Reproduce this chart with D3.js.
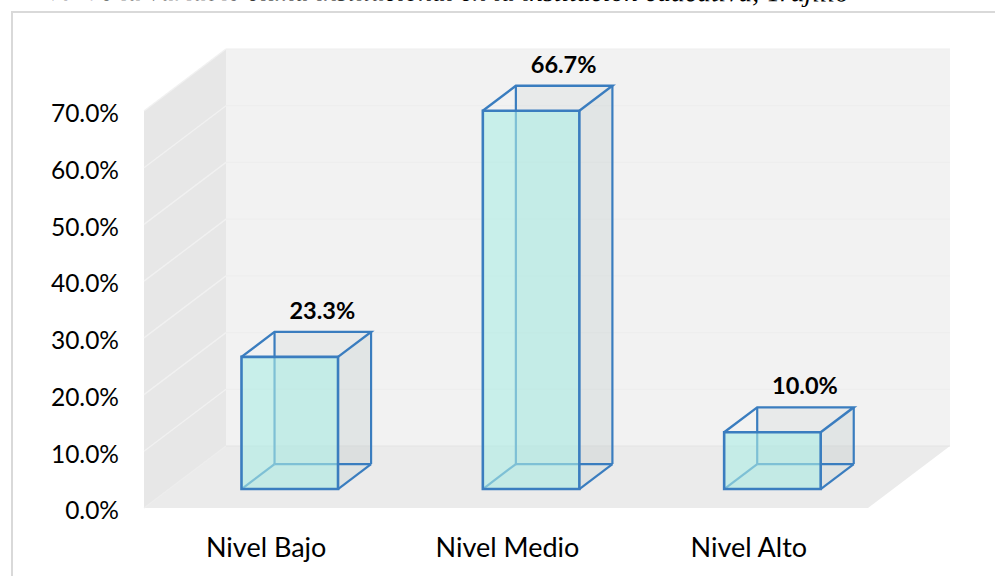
<!DOCTYPE html>
<html>
<head>
<meta charset="utf-8">
<script src="https://cdn.jsdelivr.net/npm/d3@7"></script>
<style>
  html, body { margin: 0; padding: 0; background: #fff; overflow: hidden; }
  text { font-family: Lato, "Open Sans", sans-serif; fill: #000; }
</style>
</head>
<body>
<div class="view"></div>
<script>
const categories = ['Nivel Bajo', 'Nivel Medio', 'Nivel Alto']
const values = [23.3, 66.7, 10.0]
const ticks = [0, 10, 20, 30, 40, 50, 60, 70]

const w = 995
const h = 576

// front edge of the chart box, the walls go back from here
const left = 144
const right = 868
const depthX = 82
const depthY = 62

const svg = d3.select('.view')
    .append('svg')
    .attr('width', w)
    .attr('height', h)
    .style('display', 'block')

const xScale = d3.scaleBand()
    .domain(categories)
    .range([left, right])
    .paddingInner(0.6)
    .paddingOuter(0.3)

const yScale = d3.scaleLinear()
    .domain([0, 70])
    .range([508, 111])

// 3d position: d = 0 at the front of the floor, d = 1 at the back wall
const px = (x, d) => x + d * depthX
const py = (v, d) => yScale(v) - d * depthY
const pt = (x, v, d) => px(x, d) + ',' + py(v, d)
const poly = (sel, pts, fill) => sel.append('polygon')
    .attr('points', pts.join(' '))
    .attr('fill', fill)

// caption cut off by the top of the picture, the page was a bit skewed
svg.append('text')
    .attr('transform', 'translate(22,0) rotate(0.1)')
    .attr('font-style', 'italic')
    .attr('font-size', 27.6)
    .style('font-family', '"Liberation Serif", serif')
    .text('Nivel de la variable clima institucional en la institución educativa, Trujillo')

// outer frame, runs past the right and bottom of the picture
svg.append('rect')
    .attr('x', 12)
    .attr('y', 12)
    .attr('width', w + 20)
    .attr('height', h + 20)
    .attr('fill', '#fff')
    .attr('stroke', '#d9d9d9')
    .attr('stroke-width', 2)

// walls and floor
const walls = svg.append('g').attr('class', 'walls')
poly(walls, [pt(left, 0, 0), pt(left, 70, 0), pt(left, 70, 1), pt(left, 0, 1)], '#e7e7e7')
poly(walls, [pt(left, 0, 1), pt(left, 70, 1), pt(right, 70, 1), pt(right, 0, 1)], '#f2f2f2')
poly(walls, [pt(left, 0, 0), pt(left, 0, 1), pt(right, 0, 1), pt(right, 0, 0)], '#ebebeb')

// grid lines on the side wall and the back wall
const grid = svg.append('g').attr('class', 'grid')
ticks.forEach((t) => {
    grid.append('polyline')
        .attr('points', [pt(left, t, 0), pt(left, t, 1)].join(' '))
        .attr('fill', 'none')
        .attr('stroke', t == 0 ? '#ededed' : '#f1f1f1')
        .attr('stroke-width', 1.4)
    grid.append('polyline')
        .attr('points', [pt(left, t, 1), pt(right, t, 1)].join(' '))
        .attr('fill', 'none')
        .attr('stroke', t == 0 ? '#e4e4e4' : '#eeeeee')
        .attr('stroke-width', 1.2)
})

// y axis, only the labels show
const yAxis = d3.axisLeft(yScale)
    .tickValues(ticks)
    .tickSize(0)
    .tickPadding(25)
    .tickFormat((d) => d.toFixed(1) + '%')

svg.append('g')
    .attr('class', 'y-axis')
    .attr('transform', 'translate(' + left + ',3)')
    .call(yAxis)
    .call((g) => g.select('.domain').remove())
    .selectAll('text')
    .style('font-family', 'Lato, sans-serif')
    .style('font-size', '24.5px')

// x axis labels
const xAxis = d3.axisBottom(xScale).tickSize(0).tickPadding(30)

svg.append('g')
    .attr('class', 'x-axis')
    .attr('transform', 'translate(1.5,508)')
    .call(xAxis)
    .call((g) => g.select('.domain').remove())
    .selectAll('text')
    .style('font-family', 'Lato, sans-serif')
    .style('font-size', '27px')

// boxes, drawn back to front so the glass front lets the rear edges show
const d0 = 0.306
const d1 = 0.709
const edge = '#3a7dbf'

categories.forEach((c, i) => {
    const a = xScale(c)
    const b = a + xScale.bandwidth()
    const v = values[i]
    const g = svg.append('g').attr('class', 'bar')

    // inner faces
    poly(g, [pt(a, 0, d1), pt(a, v, d1), pt(b, v, d1), pt(b, 0, d1)], 'rgba(170,185,185,0.13)')
    poly(g, [pt(b, 0, d0), pt(b, v, d0), pt(b, v, d1), pt(b, 0, d1)], 'rgba(170,190,190,0.1)')
    poly(g, [pt(a, 0, d0), pt(a, 0, d1), pt(b, 0, d1), pt(b, 0, d0)], 'rgba(170,190,190,0.08)')

    // rear edges
    const rear = [
        [pt(a, 0, d1), pt(a, v, d1)],
        [pt(a, 0, d1), pt(b, 0, d1)],
        [pt(a, 0, d0), pt(a, 0, d1)],
        [pt(b, 0, d1), pt(b, v, d1)],
        [pt(b, 0, d0), pt(b, 0, d1)]
    ]
    rear.forEach((p) => {
        g.append('polyline')
            .attr('points', p.join(' '))
            .attr('fill', 'none')
            .attr('stroke', edge)
            .attr('stroke-width', 2.2)
    })

    // front face
    poly(g, [pt(a, 0, d0), pt(a, v, d0), pt(b, v, d0), pt(b, 0, d0)], 'rgba(172,236,228,0.6)')

    // front and top edges
    g.append('polygon')
        .attr('points', [pt(a, 0, d0), pt(a, v, d0), pt(b, v, d0), pt(b, 0, d0)].join(' '))
        .attr('fill', 'none')
        .attr('stroke', edge)
        .attr('stroke-width', 2.6)
    g.append('polyline')
        .attr('points', [pt(a, v, d0), pt(a, v, d1), pt(b, v, d1), pt(b, v, d0)].join(' '))
        .attr('fill', 'none')
        .attr('stroke', edge)
        .attr('stroke-width', 2.4)

    // value label
    g.append('text')
        .attr('x', px((a + b) / 2, d1) - 0.5)
        .attr('y', py(v, d1) - 13)
        .attr('text-anchor', 'middle')
        .attr('font-weight', 'bold')
        .attr('font-size', 23.5)
        .text(v.toFixed(1) + '%')
})
</script>
</body>
</html>
